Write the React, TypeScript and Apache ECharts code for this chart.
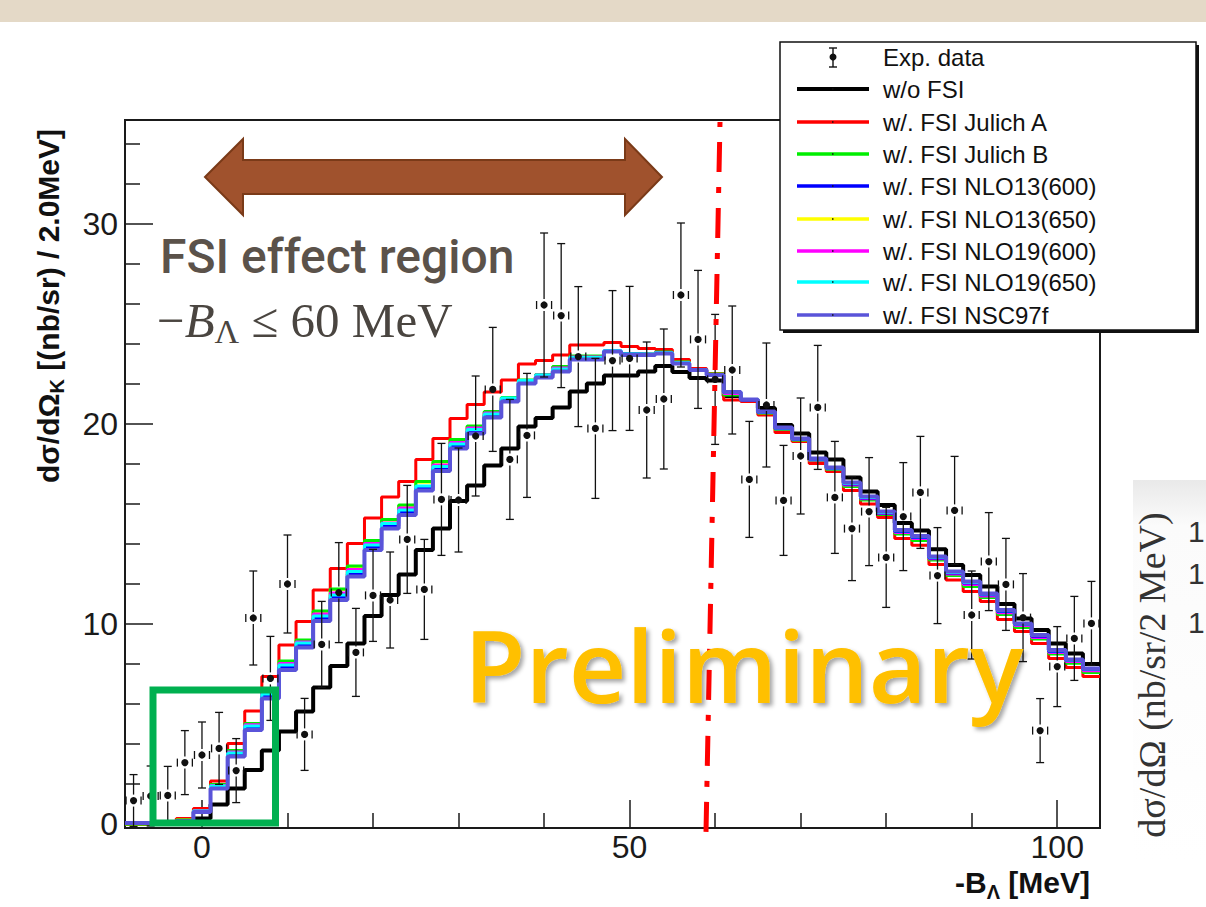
import React, { useEffect, useRef } from 'react';
import * as echarts from 'echarts';

// ---------------- data ----------------
const binCenters = [-8, -6, -4, -2, 0, 2, 4, 6, 8, 10, 12, 14, 16, 18, 20, 22, 24, 26, 28, 30, 32, 34, 36, 38, 40, 42, 44, 46, 48, 50, 52, 54, 56, 58, 60, 62, 64, 66, 68, 70, 72, 74, 76, 78, 80, 82, 84, 86, 88, 90, 92, 94, 96, 98, 100, 102, 104];

const expY = [1.17, 1.4, 1.43, 3.07, 3.45, 3.78, 2.67, 10.3, 7.28, 12.0, 4.48, 8.98, 11.57, 8.58, 11.43, 11.2, 14.23, 11.73, 16.23, 16.2, 19.4, 21.73, 18.23, 19.43, 25.95, 25.42, 23.37, 19.78, 23.17, 23.28, 20.7, 21.25, 26.45, 24.23, 22.23, 22.7, 17.23, 20.95, 16.18, 18.4, 20.83, 16.33, 14.77, 15.62, 13.33, 15.37, 16.58, 12.42, 15.68, 10.45, 13.12, 11.98, 10.32, 4.67, 7.87, 9.28, 10.03];
const expErr = [1.3, 1.5, 1.45, 1.6, 1.65, 1.8, 1.6, 2.35, 2.1, 2.45, 1.8, 2.15, 2.5, 2.2, 2.3, 2.4, 2.7, 2.5, 2.8, 2.6, 3.0, 3.1, 3.0, 3.1, 3.6, 3.6, 3.5, 3.5, 3.5, 3.6, 3.4, 3.5, 3.6, 3.45, 3.25, 3.2, 2.9, 3.1, 2.75, 2.9, 3.1, 2.8, 2.6, 2.7, 2.5, 2.7, 2.8, 2.4, 2.7, 2.2, 2.45, 2.3, 2.2, 1.6, 2.0, 2.1, 2.1];

const histWoFSI = [0, 0, 0, 0, 0.28, 0.98, 1.78, 2.7, 3.67, 4.62, 5.62, 6.82, 7.9, 9.03, 10.4, 11.45, 12.47, 13.7, 14.78, 16.15, 16.92, 17.92, 18.78, 19.87, 20.3, 20.83, 21.62, 22.03, 22.42, 22.42, 22.62, 22.9, 22.6, 22.3, 22.17, 21.4, 21.2, 20.8, 19.95, 19.53, 18.57, 18.23, 17.33, 16.62, 15.95, 15.05, 14.68, 13.74, 12.95, 12.45, 11.87, 11.0, 10.28, 9.7, 9.03, 8.53, 8.0];
const histJulichA = [0, 0, 0.03, 0.28, 0.78, 2.15, 4.03, 5.65, 7.37, 8.95, 10.12, 11.7, 12.78, 14.03, 15.3, 16.35, 17.13, 18.23, 19.28, 20.28, 20.98, 21.6, 22.2, 23.0, 23.18, 23.45, 23.95, 23.95, 24.08, 23.87, 23.78, 23.73, 23.23, 22.78, 22.53, 21.2, 21.12, 20.45, 19.57, 19.12, 18.03, 17.62, 16.67, 16.0, 15.32, 14.28, 13.94, 12.98, 12.2, 11.62, 11.12, 10.23, 9.62, 9.03, 8.28, 7.83, 7.37];
const histJulichB = [0, 0, 0.03, 0.2, 0.68, 1.98, 3.67, 5.03, 6.62, 8.15, 9.2, 10.65, 11.75, 12.9, 14.17, 15.23, 15.95, 17.12, 18.12, 19.23, 19.9, 20.62, 21.32, 22.2, 22.48, 22.87, 23.4, 23.4, 23.62, 23.53, 23.5, 23.6, 23.1, 22.72, 22.5, 21.45, 21.2, 20.55, 19.72, 19.2, 18.17, 17.72, 16.88, 16.2, 15.47, 14.5, 14.18, 13.2, 12.42, 11.88, 11.33, 10.47, 9.83, 9.25, 8.5, 8.04, 7.57];
const histNLO13_600 = [0.05, 0.05, 0.05, 0.16, 0.62, 1.84, 3.46, 4.8, 6.38, 7.82, 8.94, 10.27, 11.32, 12.5, 13.82, 14.9, 15.58, 16.78, 17.76, 18.9, 19.62, 20.42, 21.2, 22.1, 22.4, 22.7, 23.3, 23.3, 23.66, 23.5, 23.48, 23.56, 23.06, 22.72, 22.46, 21.58, 21.2, 20.57, 19.78, 19.22, 18.22, 17.78, 17.0, 16.3, 15.55, 14.62, 14.33, 13.3, 12.55, 12.05, 11.46, 10.63, 9.97, 9.39, 8.63, 8.17, 7.72];
const histNLO13_650 = [0, 0, 0.03, 0.2, 0.67, 1.96, 3.65, 5.0, 6.6, 8.12, 9.17, 10.62, 11.72, 12.87, 14.14, 15.2, 15.92, 17.09, 18.09, 19.2, 19.87, 20.6, 21.3, 22.18, 22.46, 22.85, 23.38, 23.38, 23.62, 23.52, 23.5, 23.58, 23.09, 22.71, 22.49, 21.47, 21.2, 20.56, 19.73, 19.21, 18.18, 17.73, 16.9, 16.22, 15.49, 14.53, 14.2, 13.22, 12.45, 11.9, 11.35, 10.5, 9.86, 9.28, 8.53, 8.07, 7.6];
const histNLO19_600 = [0.03, 0.03, 0.04, 0.18, 0.66, 1.93, 3.6, 4.96, 6.55, 8.02, 9.1, 10.5, 11.55, 12.72, 14.02, 15.05, 15.8, 16.85, 17.95, 19.08, 19.8, 20.55, 21.25, 22.15, 22.45, 22.8, 23.35, 23.35, 23.64, 23.5, 23.5, 23.58, 23.08, 22.72, 22.48, 21.52, 21.2, 20.57, 19.76, 19.22, 18.2, 17.76, 16.95, 16.26, 15.52, 14.58, 14.27, 13.26, 12.5, 11.97, 11.4, 10.56, 9.92, 9.33, 8.58, 8.12, 7.66];
const histNLO19_650 = [0.05, 0.05, 0.05, 0.17, 0.65, 1.9, 3.55, 4.9, 6.5, 7.95, 9.05, 10.4, 11.45, 12.62, 13.95, 15.02, 15.7, 16.9, 17.88, 19.0, 19.72, 20.5, 21.3, 22.18, 22.45, 22.75, 23.33, 23.33, 23.68, 23.5, 23.5, 23.57, 23.08, 22.73, 22.47, 21.6, 21.22, 20.6, 19.8, 19.25, 18.25, 17.8, 17.03, 16.33, 15.58, 14.66, 14.36, 13.34, 12.58, 12.08, 11.5, 10.66, 10.0, 9.42, 8.66, 8.2, 7.75];
const histNSC97f = [0.05, 0.05, 0.05, 0.15, 0.6, 1.78, 3.37, 4.7, 6.28, 7.7, 8.83, 10.15, 11.2, 12.37, 13.7, 14.78, 15.45, 16.67, 17.65, 18.78, 19.53, 20.32, 21.12, 22.03, 22.32, 22.62, 23.23, 23.23, 23.62, 23.45, 23.45, 23.53, 23.03, 22.7, 22.45, 21.6, 21.23, 20.62, 19.83, 19.28, 18.28, 17.83, 17.07, 16.37, 15.62, 14.7, 14.4, 13.38, 12.62, 12.12, 11.53, 10.7, 10.03, 9.45, 8.7, 8.23, 7.78];

const xMajorTicks = [0, 50, 100];
const xMinorTicks = [10, 20, 30, 40, 60, 70, 80, 90];
const yMajorTicks = [0, 10, 20, 30];
const yMinorTicks = [2, 4, 6, 8, 12, 14, 16, 18, 22, 24, 26, 28, 32, 34];

const legendLabels = ['Exp. data', 'w/o FSI', 'w/. FSI Julich A', 'w/. FSI Julich B', 'w/. FSI NLO13(600)', 'w/. FSI NLO13(650)', 'w/. FSI NLO19(600)', 'w/. FSI NLO19(650)', 'w/. FSI NSC97f'];
const legendColors = ['#000000', '#000000', '#ff0000', '#00ee00', '#0000ff', '#ffff00', '#ff00ff', '#00ffff', '#5a54d9'];

const histSeries = [
  { name: 'w/o FSI', values: histWoFSI, color: '#000000', width: 4 },
  { name: 'w/. FSI Julich A', values: histJulichA, color: '#ff0000', width: 3 },
  { name: 'w/. FSI NLO13(650)', values: histNLO13_650, color: '#ffff00', width: 3 },
  { name: 'w/. FSI Julich B', values: histJulichB, color: '#00ee00', width: 3 },
  { name: 'w/. FSI NLO19(600)', values: histNLO19_600, color: '#ff00ff', width: 3 },
  { name: 'w/. FSI NLO13(600)', values: histNLO13_600, color: '#0000ff', width: 3 },
  { name: 'w/. FSI NLO19(650)', values: histNLO19_650, color: '#00ffff', width: 3 },
  { name: 'w/. FSI NSC97f', values: histNSC97f, color: '#5a54d9', width: 4 },
];

// ---------------- helpers ----------------
let measureCtx: CanvasRenderingContext2D | null = null;
function measure(text: string, font: string): number {
  if (!measureCtx) measureCtx = document.createElement('canvas').getContext('2d');
  measureCtx!.font = font;
  return measureCtx!.measureText(text).width;
}

type Seg = { t: string; font: string; dy?: number };
function layoutSegs(x0: number, y0: number, parts: Seg[], fill: string, z = 30) {
  let x = x0;
  return parts.map((p) => {
    const el = {
      type: 'text',
      x,
      y: y0 + (p.dy || 0),
      z,
      style: {
        text: p.t,
        font: p.font,
        fill,
        align: 'left',
        verticalAlign: 'middle',
        textAlign: 'left',
        textVerticalAlign: 'middle',
      },
    };
    x += measure(p.t, p.font);
    return el;
  });
}
function segsWidth(parts: Seg[]) {
  return parts.reduce((s, p) => s + measure(p.t, p.font), 0);
}

function toStep(vals: number[]) {
  const pts = binCenters.map((c, i) => [c - 1, vals[i]]);
  const last = binCenters.length - 1;
  pts.push([binCenters[last] + 1, vals[last]]);
  return pts;
}

export default function App() {
  const ref = useRef<HTMLDivElement>(null);

  useEffect(() => {
    if (!ref.current) return;
    const chart = echarts.init(ref.current, undefined, { renderer: 'svg' });

    const axisFont = 'Liberation Sans';
    const titleBold = 'bold 30px "Liberation Sans"';
    const subBold = 'bold 20px "Liberation Sans"';

    const yTitleParts: Seg[] = [
      { t: 'dσ/dΩ', font: titleBold },
      { t: 'K', font: subBold, dy: 9 },
      { t: ' [(nb/sr) / 2.0MeV]', font: titleBold },
    ];
    const yTitleW = segsWidth(yTitleParts);

    const xTitleParts: Seg[] = [
      { t: '-B', font: titleBold },
      { t: 'Λ', font: subBold, dy: 10 },
      { t: ' [MeV]', font: titleBold },
    ];
    const xTitleW = segsWidth(xTitleParts);

    const mathFont = '49px "Liberation Serif"';
    const mathParts: Seg[] = [
      { t: '−', font: mathFont },
      { t: 'B', font: 'italic 49px "Liberation Serif"' },
      { t: 'Λ', font: '34px "Liberation Serif"', dy: 11 },
      { t: ' ≤ 60 MeV', font: mathFont },
    ];

    const lgX = 780, lgY = 42, lgW = 416, lgH = 288;
    const lgRowY = [57, 89, 122, 154, 186, 219, 251, 282, 315];
    const legendEls: any[] = [
      { type: 'rect', z: 40, shape: { x: lgX + 3, y: lgY + 3, width: lgW, height: lgH }, style: { fill: '#111' } },
      { type: 'rect', z: 41, shape: { x: lgX, y: lgY, width: lgW, height: lgH }, style: { fill: '#fff', stroke: '#111', lineWidth: 1.5 } },
    ];
    legendLabels.forEach((lab, i) => {
      const y = lgRowY[i];
      if (i === 0) {
        legendEls.push(
          { type: 'line', z: 42, shape: { x1: 833, y1: 48, x2: 833, y2: 67 }, style: { stroke: '#111', lineWidth: 1.4 } },
          { type: 'line', z: 42, shape: { x1: 829, y1: 48, x2: 837, y2: 48 }, style: { stroke: '#111', lineWidth: 1.4 } },
          { type: 'line', z: 42, shape: { x1: 829, y1: 67, x2: 837, y2: 67 }, style: { stroke: '#111', lineWidth: 1.4 } },
          { type: 'circle', z: 43, shape: { cx: 833, cy: 57, r: 3.5 }, style: { fill: '#111' } }
        );
      } else {
        legendEls.push(
          { type: 'line', z: 42, shape: { x1: 797, y1: y, x2: 869, y2: y }, style: { stroke: legendColors[i], lineWidth: i === 1 ? 4 : 3.5 } },
          { type: 'rect', z: 43, shape: { x: 832, y: y - 0.75, width: 1.5, height: 1.5 }, style: { fill: '#111' } }
        );
      }
      legendEls.push({
        type: 'text', z: 43, x: 883, y,
        style: { text: lab, font: '24px "Liberation Sans"', fill: '#111', align: 'left', verticalAlign: 'middle', textAlign: 'left', textVerticalAlign: 'middle' },
      });
    });

    const arrowPts = [[205, 177], [243, 139], [243, 160], [625, 160], [625, 139], [662, 177], [625, 215], [625, 194], [243, 194], [243, 215]];

    const graphic: any[] = [
      { type: 'rect', z: 1, shape: { x: 0, y: 0, width: 1206, height: 22 }, style: { fill: '#e4d9c7' } },
      {
        type: 'rect', z: 1, shape: { x: 1133, y: 480, width: 73, height: 380 },
        style: { fill: new echarts.graphic.LinearGradient(0, 0, 0, 1, [{ offset: 0, color: '#e9e9e9' }, { offset: 0.12, color: '#fbfbfb' }, { offset: 1, color: '#ffffff' }]) },
      },
      {
        type: 'text', z: 2, x: 1152, y: 675, rotation: Math.PI / 2,
        style: { text: 'dσ/dΩ (nb/sr/2 MeV)', font: '38px "Liberation Serif"', fill: '#333', align: 'center', verticalAlign: 'middle', textAlign: 'center', textVerticalAlign: 'middle' },
      },
      ...[531, 573, 622].map((yy) => ({
        type: 'text', z: 2, x: 1188, y: yy,
        style: { text: '1', font: '30px "Liberation Sans"', fill: '#333', align: 'left', verticalAlign: 'middle', textAlign: 'left', textVerticalAlign: 'middle' },
      })),
      { type: 'group', x: 48, y: 306, rotation: Math.PI / 2, children: layoutSegs(-yTitleW / 2, 0, yTitleParts, '#111') },
      ...layoutSegs(1090 - xTitleW, 882, xTitleParts, '#111'),
      { type: 'polygon', z: 30, shape: { points: arrowPts }, style: { fill: '#a0522d', stroke: '#7a3a18', lineWidth: 2 } },
      {
        type: 'text', z: 30, x: 160, y: 256,
        style: { text: 'FSI effect region', font: '500 48px Roboto', fill: '#5b524a', align: 'left', verticalAlign: 'middle', textAlign: 'left', textVerticalAlign: 'middle' },
      },
      ...layoutSegs(157, 320, mathParts, '#4a4540'),
      { type: 'line', z: 31, shape: { x1: 720, y1: 122, x2: 706, y2: 832 }, style: { stroke: '#ff0000', lineWidth: 5, lineDash: [30, 15, 6, 15], lineDashOffset: 46 } },
      { type: 'rect', z: 31, shape: { x: 153, y: 690, width: 122.5, height: 133 }, style: { fill: 'none', stroke: '#00b050', lineWidth: 7 } },
      {
        type: 'text', z: 32, x: 464, y: 664,
        style: {
          text: 'Preliminary', font: '600 100px "Open Sans"', fill: '#ffc000', align: 'left', verticalAlign: 'middle', textAlign: 'left', textVerticalAlign: 'middle',
          textShadowColor: 'rgba(0,0,0,0.35)', textShadowBlur: 4, textShadowOffsetX: 3, textShadowOffsetY: 3,
          shadowColor: 'rgba(0,0,0,0.35)', shadowBlur: 4, shadowOffsetX: 3, shadowOffsetY: 3,
        },
      },
      ...legendEls,
    ];

    const lineSeries = histSeries.map((s) => ({
      name: s.name,
      type: 'line',
      step: 'end',
      data: toStep(s.values),
      showSymbol: false,
      symbol: 'none',
      lineStyle: { color: s.color, width: s.width },
      itemStyle: { color: s.color },
      z: 2,
      silent: true,
    }));

    const errData = binCenters.map((x, i) => [x, expY[i], expErr[i]]);
    const errSeries = {
      name: 'Exp. data',
      type: 'custom',
      data: errData,
      encode: { x: 0, y: 1 },
      z: 4,
      silent: true,
      renderItem: (params: any, api: any) => {
        const x = api.value(0), y = api.value(1), e = api.value(2);
        const p = api.coord([x, y]);
        const t = api.coord([x, y + e]);
        const b = api.coord([x, y - e]);
        const st = { stroke: '#111', lineWidth: 1.3 };
        const gap = 6;
        const children: any[] = [];
        if (t[1] < p[1] - gap) children.push({ type: 'line', shape: { x1: p[0], y1: t[1], x2: p[0], y2: p[1] - gap }, style: st });
        if (b[1] > p[1] + gap) children.push({ type: 'line', shape: { x1: p[0], y1: p[1] + gap, x2: p[0], y2: b[1] }, style: st });
        children.push({ type: 'line', shape: { x1: p[0] - 4, y1: t[1], x2: p[0] + 4, y2: t[1] }, style: st });
        children.push({ type: 'line', shape: { x1: p[0] - 4, y1: b[1], x2: p[0] + 4, y2: b[1] }, style: st });
        children.push({ type: 'line', shape: { x1: p[0] - 7.5, y1: p[1] - 4, x2: p[0] - 7.5, y2: p[1] + 4 }, style: st });
        children.push({ type: 'line', shape: { x1: p[0] + 7.5, y1: p[1] - 4, x2: p[0] + 7.5, y2: p[1] + 4 }, style: st });
        children.push({ type: 'circle', shape: { cx: p[0], cy: p[1], r: 3.6 }, style: { fill: '#111' } });
        return { type: 'group', children };
      },
    };

    const tickColor = '#1a1a1a';
    const option: any = {
      animation: false,
      backgroundColor: '#ffffff',
      grid: { left: 125, top: 120, width: 975, height: 708, show: true, borderColor: '#1a1a1a', borderWidth: 2, backgroundColor: 'transparent', containLabel: false },
      xAxis: [
        {
          type: 'value', min: -9, max: 105, position: 'bottom',
          axisLine: { show: false, onZero: false }, splitLine: { show: false },
          axisTick: { show: true, inside: true, length: 28, customValues: xMajorTicks, lineStyle: { color: tickColor, width: 1.5 } },
          axisLabel: { show: true, customValues: xMajorTicks, fontSize: 32, fontFamily: axisFont, color: '#1a1a1a', margin: 3 },
        },
        {
          type: 'value', min: -9, max: 105, position: 'bottom',
          axisLine: { show: false, onZero: false }, splitLine: { show: false },
          axisTick: { show: true, inside: true, length: 15, customValues: xMinorTicks, lineStyle: { color: tickColor, width: 1.5 } },
          axisLabel: { show: false },
        },
      ],
      yAxis: [
        {
          type: 'value', min: -0.2, max: 35.2, position: 'left',
          axisLine: { show: false, onZero: false }, splitLine: { show: false },
          axisTick: { show: true, inside: true, length: 28, customValues: yMajorTicks, lineStyle: { color: tickColor, width: 1.5 } },
          axisLabel: { show: true, customValues: yMajorTicks, fontSize: 32, fontFamily: axisFont, color: '#1a1a1a', margin: 7 },
        },
        {
          type: 'value', min: -0.2, max: 35.2, position: 'left',
          axisLine: { show: false, onZero: false }, splitLine: { show: false },
          axisTick: { show: true, inside: true, length: 15, customValues: yMinorTicks, lineStyle: { color: tickColor, width: 1.5 } },
          axisLabel: { show: false },
        },
      ],
      series: [...lineSeries, errSeries],
      graphic,
    };

    chart.setOption(option);
    return () => chart.dispose();
  }, []);

  return (
    <div
      ref={ref}
      style={{ position: 'absolute', left: 0, top: 0, width: 1206, height: 907, background: '#ffffff' }}
    />
  );
}
